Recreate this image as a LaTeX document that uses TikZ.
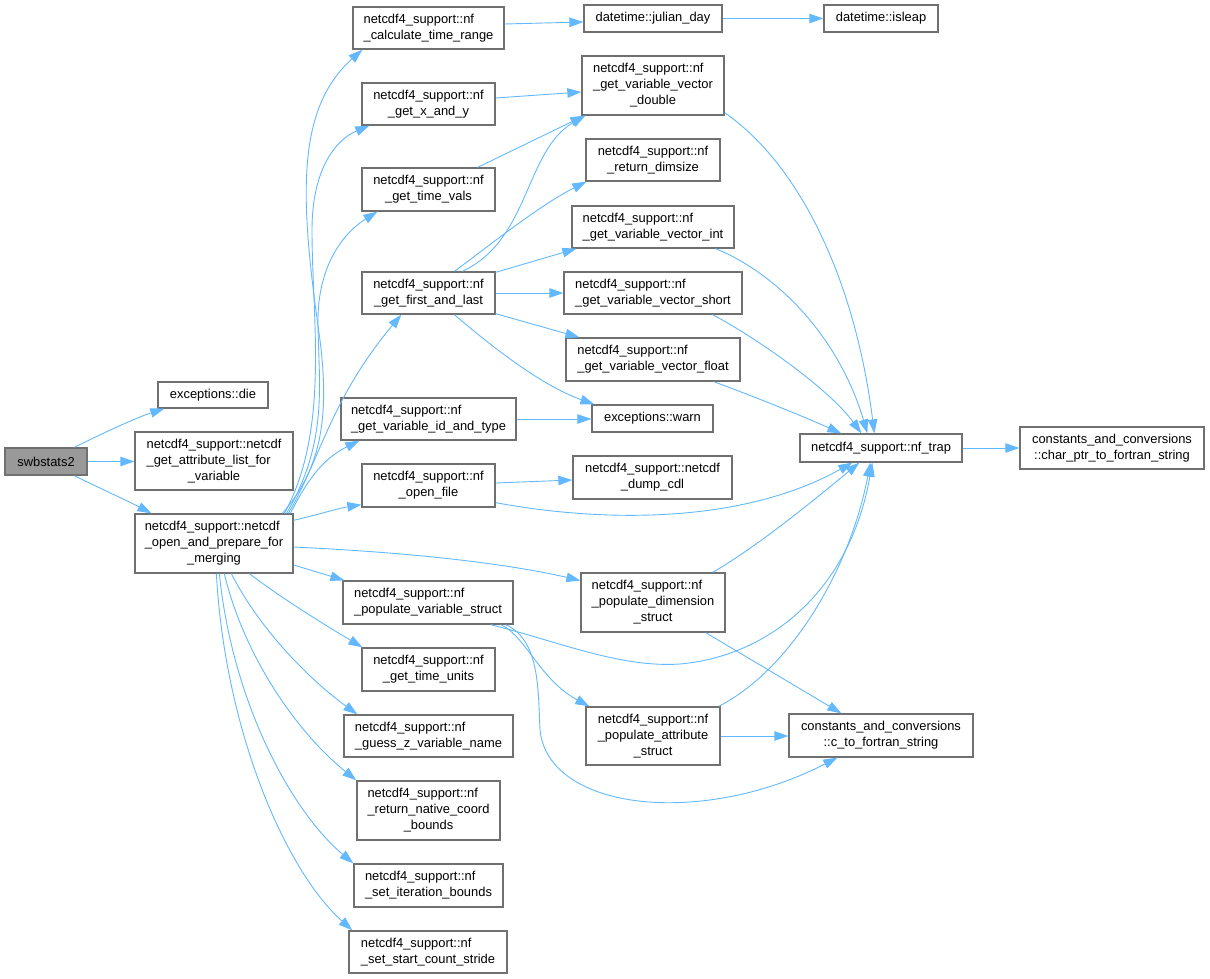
\documentclass[tikz,border=0pt]{standalone}
\usepackage{fontspec}
\setmainfont{Liberation Sans}
\usetikzlibrary{arrows.meta,calc}
\definecolor{edgeblue}{HTML}{63B8FF}
\definecolor{boxgray}{HTML}{707070}
\definecolor{rootfill}{HTML}{999999}
\newcommand{\LLii}[2]{\begin{tabular}{@{}l@{}}#1\\\multicolumn{1}{@{}c@{}}{#2}\end{tabular}}
\newcommand{\LLiii}[3]{\begin{tabular}{@{}l@{}}#1\\#2\\\multicolumn{1}{@{}c@{}}{#3}\end{tabular}}
\begin{document}
\begin{tikzpicture}[x=1pt,y=-1pt,
  nbox/.style={draw=boxgray, line width=1.3pt, fill=white, inner sep=0pt, text=black,
    font=\fontsize{12.9}{16}\selectfont},
  conn/.style={draw=edgeblue, line width=0.9pt, -{Triangle[length=14pt,width=9.5pt]}}]
\useasboundingbox (0,0) rectangle (1210,979);
% nodes
\node[nbox, fill=rootfill, minimum width=82pt, minimum height=27pt] (sw) at (46,461.5) {swbstats2};
\node[nbox, minimum width=110pt, minimum height=26pt] (die) at (213,395) {exceptions::die};
\node[nbox, minimum width=158pt, minimum height=58pt] (attr) at (214,461) {\LLiii{netcdf4\_support::netcdf}{\_get\_attribute\_list\_for}{\_variable}};
\node[nbox, minimum width=158pt, minimum height=59pt] (open) at (214,543.5) {\LLiii{netcdf4\_support::netcdf}{\_open\_and\_prepare\_for}{\_merging}};
\node[nbox, minimum width=151pt, minimum height=42pt] (calc) at (428.5,28) {\LLii{netcdf4\_support::nf}{\_calculate\_time\_range}};
\node[nbox, minimum width=138pt, minimum height=27pt] (julian) at (653,18.5) {datetime::julian\_day};
\node[nbox, minimum width=114pt, minimum height=27pt] (isleap) at (881,18.5) {datetime::isleap};
\node[nbox, minimum width=133pt, minimum height=42pt] (xy) at (428.5,104) {\LLii{netcdf4\_support::nf}{\_get\_x\_and\_y}};
\node[nbox, minimum width=142pt, minimum height=59pt] (vdouble) at (653,85.5) {\LLiii{netcdf4\_support::nf}{\_get\_variable\_vector}{\_double}};
\node[nbox, minimum width=134pt, minimum height=42pt] (dimsize) at (653,160) {\LLii{netcdf4\_support::nf}{\_return\_dimsize}};
\node[nbox, minimum width=133pt, minimum height=43pt] (timevals) at (428.5,189.5) {\LLii{netcdf4\_support::nf}{\_get\_time\_vals}};
\node[nbox, minimum width=162pt, minimum height=42pt] (vint) at (653,227) {\LLii{netcdf4\_support::nf}{\_get\_variable\_vector\_int}};
\node[nbox, minimum width=133pt, minimum height=42pt] (first) at (428.5,293) {\LLii{netcdf4\_support::nf}{\_get\_first\_and\_last}};
\node[nbox, minimum width=178pt, minimum height=42pt] (vshort) at (653,293) {\LLii{netcdf4\_support::nf}{\_get\_variable\_vector\_short}};
\node[nbox, minimum width=174pt, minimum height=43pt] (vfloat) at (653,359.5) {\LLii{netcdf4\_support::nf}{\_get\_variable\_vector\_float}};
\node[nbox, minimum width=175pt, minimum height=42pt] (idtype) at (428.5,419) {\LLii{netcdf4\_support::nf}{\_get\_variable\_id\_and\_type}};
\node[nbox, minimum width=121pt, minimum height=27pt] (warn) at (652.5,418.5) {exceptions::warn};
\node[nbox, minimum width=133pt, minimum height=43pt] (openfile) at (428.5,485.5) {\LLii{netcdf4\_support::nf}{\_open\_file}};
\node[nbox, minimum width=159pt, minimum height=43pt] (dump) at (652.5,477.5) {\LLii{netcdf4\_support::netcdf}{\_dump\_cdl}};
\node[nbox, minimum width=162pt, minimum height=28pt] (trap) at (881,448) {netcdf4\_support::nf\_trap};
\node[nbox, minimum width=184pt, minimum height=42pt] (charptr) at (1112,448) {\LLii{constants\_and\_conversions}{::char\_ptr\_to\_fortran\_string}};
\node[nbox, minimum width=170pt, minimum height=43pt] (popvar) at (428,602.5) {\LLii{netcdf4\_support::nf}{\_populate\_variable\_struct}};
\node[nbox, minimum width=144pt, minimum height=59pt] (popdim) at (653,602.5) {\LLiii{netcdf4\_support::nf}{\_populate\_dimension}{\_struct}};
\node[nbox, minimum width=133pt, minimum height=43pt] (units) at (428.5,669.5) {\LLii{netcdf4\_support::nf}{\_get\_time\_units}};
\node[nbox, minimum width=169pt, minimum height=42pt] (guess) at (428.5,736) {\LLii{netcdf4\_support::nf}{\_guess\_z\_variable\_name}};
\node[nbox, minimum width=143pt, minimum height=59pt] (native) at (428.5,810.5) {\LLiii{netcdf4\_support::nf}{\_return\_native\_coord}{\_bounds}};
\node[nbox, minimum width=149pt, minimum height=43pt] (iter) at (428.5,885.5) {\LLii{netcdf4\_support::nf}{\_set\_iteration\_bounds}};
\node[nbox, minimum width=158pt, minimum height=42pt] (stride) at (428,952) {\LLii{netcdf4\_support::nf}{\_set\_start\_count\_stride}};
\node[nbox, minimum width=134pt, minimum height=58pt] (popattr) at (653,736) {\LLiii{netcdf4\_support::nf}{\_populate\_attribute}{\_struct}};
\node[nbox, minimum width=184pt, minimum height=43pt] (c2f) at (881,735.5) {\LLii{constants\_and\_conversions}{::c\_to\_fortran\_string}};
% edges from swbstats2
\draw[conn] ($(sw.north west)+(70,0)$) .. controls (95,437) and (135,418) .. ($(die.south west)+(7,0)$);
\draw[conn] (sw.east) -- (sw.east -| attr.west);
\draw[conn] ($(sw.south west)+(70,0)$) .. controls (95,486) and (130,502) .. ($(open.north west)+(17,0)$);
% edges from open_and_prepare
\draw[conn] ($(open.north west)+(148,0)$) .. controls (320,470) and (330,420) .. (320,340) .. controls (300,200) and (295,110) .. ($(calc.south west)+(10,0)$);
\draw[conn] ($(open.north west)+(150,0)$) .. controls (330,430) and (312,320) .. (312,230) .. controls (312,170) and (335,140) .. ($(xy.south west)+(8,0)$);
\draw[conn] ($(open.north west)+(152,0)$) .. controls (330,440) and (318,380) .. (318,320) .. controls (318,270) and (340,235) .. ($(timevals.south west)+(16,0)$);
\draw[conn] ($(open.north west)+(154,0)$) .. controls (320,460) and (330,400) .. ($(first.south west)+(40,0)$);
\draw[conn] ($(open.north west)+(156,0)$) .. controls (305,485) and (320,460) .. ($(idtype.south west)+(19,0)$);
\draw[conn] ($(open.north east)+(0,7)$) .. controls (320,514) and (340,508) .. ($(openfile.south west)+(0,-3)$);
\draw[conn] ($(open.east)+(0,3.5)$) .. controls (400,552) and (500,562) .. ($(popdim.west)+(0,-22)$);
\draw[conn] ($(open.east)+(0,21.5)$) .. controls (310,570) and (330,576) .. ($(popvar.north west)+(2,0)$);
\draw[conn] ($(open.south west)+(115,0)$) .. controls (280,597) and (320,622) .. ($(units.north west)+(1,0)$);
\draw[conn] ($(open.south west)+(97,0)$) .. controls (260,630) and (310,680) .. ($(guess.north west)+(14,0)$);
\draw[conn] ($(open.south west)+(90,0)$) .. controls (245,660) and (300,735) .. (native.north west);
\draw[conn] ($(open.south west)+(85,0)$) .. controls (232,700) and (290,810) .. (iter.north west);
\draw[conn] ($(open.south west)+(82,0)$) .. controls (225,730) and (285,870) .. ($(stride.north west)+(4,0)$);
% second level
\draw[conn] ($(calc.east)+(0,-4)$) -- ($(julian.west)+(0,3.5)$);
\draw[conn] (julian.east) -- (isleap.west);
\draw[conn] ($(xy.east)+(0,-6)$) -- ($(vdouble.west)+(0,6.5)$);
\draw[conn] ($(timevals.north east)+(-18,0)$) -- ($(vdouble.south west)+(3,0)$);
\draw[conn] ($(first.north west)+(101,0)$) .. controls (530,240) and (525,150) .. ($(vdouble.south west)+(4,0)$);
\draw[conn] ($(first.north west)+(93,0)$) .. controls (490,245) and (540,205) .. ($(dimsize.south west)+(1,0)$);
\draw[conn] ($(first.north east)+(0,1)$) -- ($(vint.south west)+(5,0)$);
\draw[conn] (first.east) -- (vshort.west);
\draw[conn] ($(first.south east)+(0,-1)$) -- ($(vfloat.north west)+(14,0)$);
\draw[conn] ($(first.south west)+(93,0)$) .. controls (490,345) and (540,385) .. ($(warn.north west)+(3,0)$);
\draw[conn] (idtype.east) -- (idtype.east -| warn.west);
\draw[conn] ($(vdouble.south east)+(0,-3)$) .. controls (800,165) and (855,280) .. ($(trap.north west)+(75,0)$);
\draw[conn] ($(vint.south east)+(-19,0)$) .. controls (780,275) and (840,340) .. ($(trap.north west)+(68,0)$);
\draw[conn] ($(vshort.south east)+(-30,0)$) .. controls (760,340) and (830,390) .. ($(trap.north west)+(62,0)$);
\draw[conn] ($(vfloat.south east)+(-27,0)$) .. controls (750,395) and (800,415) .. ($(trap.north west)+(42,0)$);
\draw[conn] ($(openfile.east)+(0,-2.5)$) -- ($(dump.west)+(0,2.5)$);
\draw[conn] ($(openfile.south east)+(0,-5)$) .. controls (600,522) and (740,525) .. ($(trap.south west)+(53,0)$);
\draw[conn] ($(popdim.north east)+(-13,0)$) .. controls (760,545) and (820,495) .. ($(trap.south west)+(60,0)$);
\draw[conn] ($(popdim.south east)+(-20,0)$) -- ($(c2f.north west)+(53,0)$);
\draw[conn] ($(popvar.south east)+(-23,0)$) .. controls (560,642) and (620,668) .. (680,664) .. controls (770,656) and (850,590) .. ($(trap.south west)+(73,0)$);
\draw[conn] ($(popvar.south east)+(-13,0)$) .. controls (525,635) and (540,680) .. ($(popattr.north west)+(4,0)$);
\draw[conn] ($(popvar.south east)+(-8,0)$) .. controls (540,640) and (538,690) .. (540,730) .. controls (548,810) and (700,828) .. ($(c2f.south west)+(49,0)$);
\draw[conn] ($(popattr.north east)+(-2,0)$) .. controls (790,670) and (850,570) .. ($(trap.south west)+(71,0)$);
\draw[conn] (popattr.east) -- (popattr.east -| c2f.west);
\draw[conn] (trap.east) -- (charptr.west);
\end{tikzpicture}
\end{document}
